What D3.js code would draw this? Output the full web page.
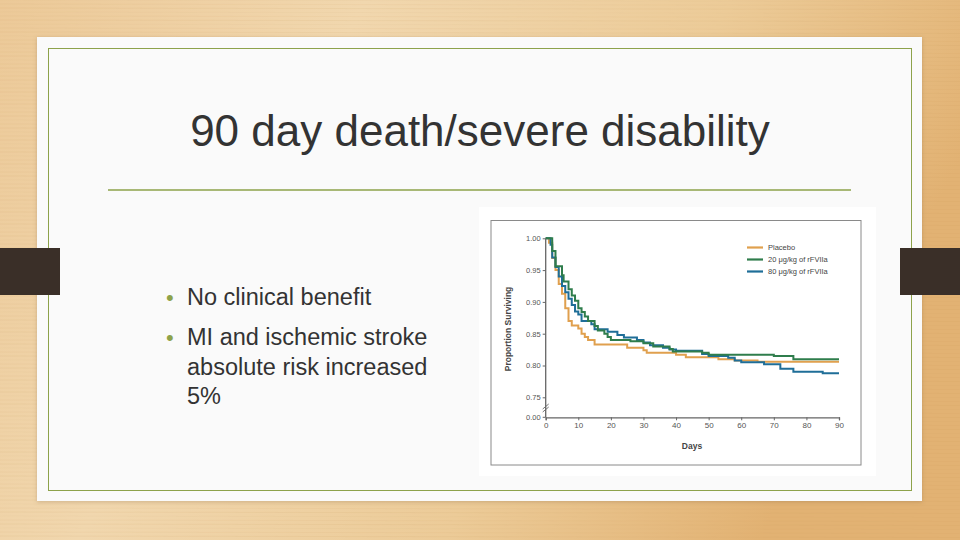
<!DOCTYPE html>
<html>
<head>
<meta charset="utf-8">
<script src="https://cdn.jsdelivr.net/npm/d3@7"></script>
<style>
  html, body { margin: 0; padding: 0; background: #fff; }
  svg { display: block; }
  text { font-family: "Liberation Sans", Arial, sans-serif; }
</style>
</head>
<body>
<svg width="960" height="540"></svg>
<script>
// slide text
const titleText = "90 day death/severe disability";
const bullets = [
  ["No clinical benefit"],
  ["MI and ischemic stroke", "absolute risk increased", "5%"]
];

// chart data
const seriesNames = ["Placebo", "20 \u03bcg/kg of rFVIIa", "80 \u03bcg/kg of rFVIIa"];
const seriesColors = ["#e0a04e", "#2f7d4c", "#1f6e98"];

const placeboDays = [0, 1, 2, 3, 4, 5, 6, 7, 8, 10, 11, 12, 13, 15, 25, 30, 31, 40, 43, 53, 58, 65, 90];
const placeboSurv = [1.00, 0.993, 0.969, 0.950, 0.928, 0.913, 0.890, 0.870, 0.863, 0.858, 0.850, 0.845, 0.840, 0.833, 0.828, 0.824, 0.820, 0.817, 0.813, 0.810, 0.808, 0.806, 0.806];

const dose20Days = [0, 2, 3, 5, 5.5, 7, 8, 9, 10, 11, 12, 13, 15, 16, 18, 19, 20, 26, 30, 33, 38, 39, 48, 50, 70, 76, 90];
const dose20Surv = [1.00, 0.980, 0.956, 0.942, 0.932, 0.920, 0.910, 0.902, 0.890, 0.884, 0.877, 0.870, 0.862, 0.855, 0.850, 0.845, 0.840, 0.838, 0.835, 0.830, 0.826, 0.822, 0.820, 0.817, 0.815, 0.810, 0.810];

const dose80Days = [0, 1.5, 2, 3, 4, 5, 6, 7, 8, 9, 10, 11, 14, 15, 19, 22, 24, 28, 30, 32, 36, 38, 40, 48, 50, 56, 58, 60, 67, 72, 76, 85, 90];
const dose80Surv = [1.00, 0.990, 0.970, 0.955, 0.940, 0.925, 0.915, 0.905, 0.895, 0.885, 0.880, 0.870, 0.865, 0.857, 0.853, 0.848, 0.844, 0.840, 0.836, 0.832, 0.828, 0.825, 0.823, 0.818, 0.815, 0.812, 0.808, 0.805, 0.802, 0.795, 0.790, 0.788, 0.788];

const xTicks = [0, 10, 20, 30, 40, 50, 60, 70, 80, 90];
const yTicks = [0.75, 0.80, 0.85, 0.90, 0.95, 1.00];

const svg = d3.select("svg");
const defs = svg.append("defs");

// wood-ish background
const wood = defs.append("linearGradient").attr("id", "wood")
  .attr("x1", "0").attr("y1", "0").attr("x2", "1").attr("y2", "0.3");
wood.append("stop").attr("offset", "0%").attr("stop-color", "#ecc998");
wood.append("stop").attr("offset", "35%").attr("stop-color", "#f1d7ae");
wood.append("stop").attr("offset", "70%").attr("stop-color", "#eccb98");
wood.append("stop").attr("offset", "100%").attr("stop-color", "#e2b273");
svg.append("rect").attr("width", 960).attr("height", 540).attr("fill", "url(#wood)");

// faint grain lines
const grain = d3.range(0, 540, 4);
svg.append("g").selectAll("line").data(grain).enter().append("line")
  .attr("x1", 0).attr("x2", 960)
  .attr("y1", d => d).attr("y2", d => d + 1.5)
  .attr("stroke", "#c99a5e").attr("stroke-opacity", (d, i) => 0.05 + (i % 3) * 0.03)
  .attr("stroke-width", 1);

// white card
const shadow = defs.append("filter").attr("id", "shadow").attr("x", "-5%").attr("y", "-5%").attr("width", "110%").attr("height", "110%");
shadow.append("feDropShadow").attr("dx", 0).attr("dy", 1).attr("stdDeviation", 2).attr("flood-color", "#8a6a40").attr("flood-opacity", 0.35);
svg.append("rect").attr("x", 37).attr("y", 37).attr("width", 885).attr("height", 464)
  .attr("fill", "#fafafa").attr("filter", "url(#shadow)");
svg.append("rect").attr("x", 48.5).attr("y", 48.5).attr("width", 863).attr("height", 442)
  .attr("fill", "none").attr("stroke", "#8da24a").attr("stroke-width", 1);

// dark side tabs
svg.append("rect").attr("x", 0).attr("y", 248).attr("width", 60).attr("height", 47).attr("fill", "#3a2f28");
svg.append("rect").attr("x", 900).attr("y", 248).attr("width", 60).attr("height", 47).attr("fill", "#3a2f28");

// title
svg.append("text").attr("x", 480).attr("y", 146).attr("text-anchor", "middle")
  .attr("font-size", 44).attr("fill", "#333").text(titleText);
svg.append("line").attr("x1", 108).attr("x2", 851).attr("y1", 190).attr("y2", 190)
  .attr("stroke", "#8da24a").attr("stroke-width", 1.5);

// bullets
let by = 305;
bullets.forEach(lines => {
  svg.append("text").attr("x", 166).attr("y", by).attr("font-size", 22).attr("fill", "#8da24a").text("\u2022");
  lines.forEach((t, j) => {
    svg.append("text").attr("x", 187).attr("y", by + j * 29.5)
      .attr("font-size", 23.5).attr("fill", "#333").text(t);
  });
  by += 40;
});

// chart picture panel
svg.append("rect").attr("x", 479).attr("y", 207).attr("width", 397).attr("height", 269).attr("fill", "#fff");
svg.append("rect").attr("x", 491).attr("y", 220.5).attr("width", 370).attr("height", 244.5)
  .attr("fill", "none").attr("stroke", "#8a8a8a").attr("stroke-width", 1);

const x = d3.scaleLinear().domain([0, 90]).range([545.7, 839]);
const y = d3.scaleLinear().domain([0.75, 1.00]).range([397.3, 238.3]);
const yZero = 417.3;

const chart = svg.append("g");

// x axis
const xAxis = chart.append("g").attr("transform", `translate(0,${yZero})`)
  .call(d3.axisBottom(x).tickValues(xTicks).tickSize(3).tickPadding(2));
xAxis.select(".domain").attr("stroke", "#666").attr("stroke-width", 1.3);
xAxis.selectAll(".tick line").attr("stroke", "#666");
xAxis.selectAll("text").attr("font-size", 8).attr("fill", "#555");

// y axis
const yAxis = chart.append("g").attr("transform", `translate(${x(0)},0)`)
  .call(d3.axisLeft(y).tickValues(yTicks).tickFormat(d3.format(".2f")).tickSize(3).tickPadding(2));
yAxis.select(".domain").remove();
yAxis.selectAll(".tick line").attr("stroke", "#666");
yAxis.selectAll("text").attr("font-size", 7.5).attr("fill", "#555");
// 0.00 tick below the break
chart.append("line").attr("x1", x(0) - 3).attr("x2", x(0)).attr("y1", yZero).attr("y2", yZero).attr("stroke", "#666");
chart.append("text").attr("x", x(0) - 5).attr("y", yZero).attr("dy", "0.32em").attr("text-anchor", "end")
  .attr("font-size", 7.5).attr("fill", "#555").text("0.00");
chart.append("line").attr("x1", x(0)).attr("x2", x(0)).attr("y1", y(1.0)).attr("y2", yZero)
  .attr("stroke", "#666").attr("stroke-width", 1.3);
// break marks
[-1.5, 1.5].forEach(o => {
  chart.append("line").attr("x1", x(0) - 3).attr("x2", x(0) + 3)
    .attr("y1", 408 + o + 2.5).attr("y2", 408 + o - 2.5)
    .attr("stroke", "#666").attr("stroke-width", 0.9);
});

// axis titles
chart.append("text").attr("transform", `translate(511,329) rotate(-90)`).attr("text-anchor", "middle")
  .attr("font-size", 8.5).attr("font-weight", "bold").attr("fill", "#444").text("Proportion Surviving");
chart.append("text").attr("x", 692).attr("y", 449).attr("text-anchor", "middle")
  .attr("font-size", 8.5).attr("font-weight", "bold").attr("fill", "#444").text("Days");

// curves
const series = [
  { name: seriesNames[0], color: seriesColors[0], days: placeboDays, surv: placeboSurv },
  { name: seriesNames[2], color: seriesColors[2], days: dose80Days, surv: dose80Surv },
  { name: seriesNames[1], color: seriesColors[1], days: dose20Days, surv: dose20Surv }
];
const line = d3.line().x(d => x(d[0])).y(d => y(d[1])).curve(d3.curveStepAfter);
chart.selectAll(".curve").data(series).enter().append("path")
  .attr("class", "curve")
  .attr("d", s => line(s.days.map((d, i) => [d, s.surv[i]])))
  .attr("fill", "none").attr("stroke", s => s.color).attr("stroke-width", 2);

// legend
const legend = chart.append("g").selectAll("g").data(seriesNames).enter().append("g")
  .attr("transform", (d, i) => `translate(747,${247.5 + i * 12})`);
legend.append("line").attr("x1", 0).attr("x2", 16).attr("stroke", (d, i) => seriesColors[i]).attr("stroke-width", 2.2);
legend.append("text").attr("x", 21).attr("dy", "0.32em").attr("font-size", 7.5).attr("fill", "#444").text(d => d);
</script>
</body>
</html>
